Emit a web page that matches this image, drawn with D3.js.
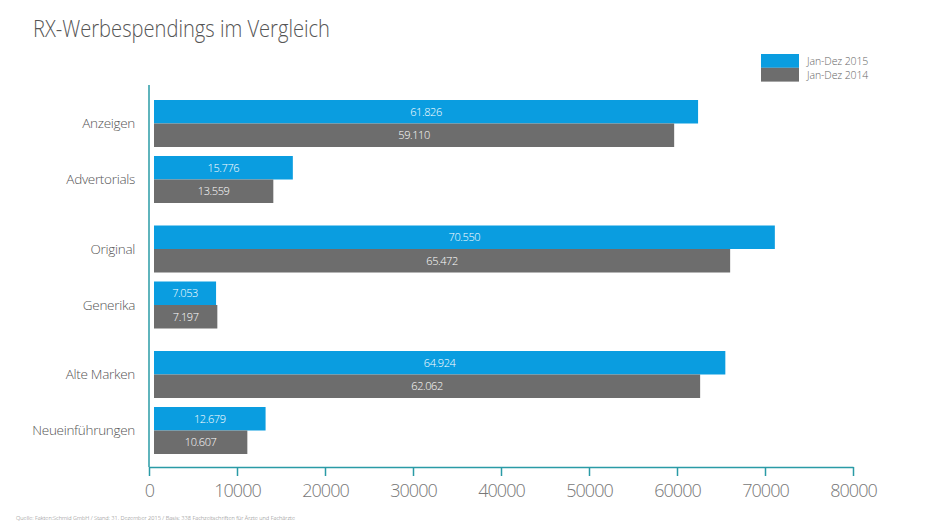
<!DOCTYPE html>
<html>
<head>
<meta charset="utf-8">
<script src="https://cdn.jsdelivr.net/npm/d3@7"></script>
<style>
  html, body { margin: 0; padding: 0; background: #fff; }
  svg { display: block; font-family: "Open Sans", sans-serif; }
</style>
</head>
<body>
<svg id="chart" width="933" height="527"></svg>
<script>
// ---- data ----
const title = "RX-Werbespendings im Vergleich";
const source = "Quelle: Fakten:Schmid GmbH / Stand: 31. Dezember 2015 / Basis: 338 Fachzeitschriften für Ärzte und Fachärzte";
const sections = [["Anzeigen", "Advertorials"], ["Original", "Generika"], ["Alte Marken", "Neueinführungen"]];
const categories = ["Anzeigen", "Advertorials", "Original", "Generika", "Alte Marken", "Neueinführungen"];
const seriesNames = ["Jan-Dez 2015", "Jan-Dez 2014"];
const values2015 = [61826, 15776, 70550, 7053, 64924, 12679];
const values2014 = [59110, 13559, 65472, 7197, 62062, 10607];
const xTicks = [0, 10000, 20000, 30000, 40000, 50000, 60000, 70000, 80000];
const colors = ["#0a9de0", "#6d6d6d"];

const svg = d3.select("#chart");
const axisColor = "#2a9ba6";
const fmt = v => d3.format(",")(v).replace(/,/g, ".");

const x = d3.scaleLinear().domain([0, 80000]).range([149, 853]);
const ySection = d3.scalePoint().domain(d3.range(sections.length)).range([100, 351]);
const yInner = d3.scalePoint().domain([0, 1]).range([0, 56]);
const ySeries = d3.scaleBand().domain(seriesNames).range([0, 47]);
const barOffset = 5;

function groupTop(cat) {
  for (let s = 0; s < sections.length; s++) {
    const i = sections[s].indexOf(cat);
    if (i >= 0) return ySection(s) + yInner(i);
  }
  return 0;
}

// title
svg.append("text")
  .attr("x", 33).attr("y", 37)
  .attr("font-size", 24).attr("font-weight", 300)
  .attr("fill", "#555")
  .attr("textLength", 297).attr("lengthAdjust", "spacingAndGlyphs")
  .text(title);

// legend
const legend = svg.append("g");
seriesNames.forEach((n, i) => {
  legend.append("rect")
    .attr("x", 761).attr("y", 54 + i * 13.8)
    .attr("width", 38).attr("height", 13.8)
    .attr("fill", colors[i]);
  legend.append("text")
    .attr("x", 807).attr("y", 64.5 + i * 14.5)
    .attr("font-size", 10.5).attr("font-weight", 300)
    .attr("fill", "#666")
    .attr("letter-spacing", -0.1)
    .text(n);
});

// bars
const data = categories.map((c, i) => ({ cat: c, vals: [values2015[i], values2014[i]] }));
const groups = svg.append("g").selectAll("g").data(data).join("g")
  .attr("transform", d => `translate(0,${groupTop(d.cat)})`);

groups.selectAll("rect").data(d => d.vals.map((v, j) => ({ v, s: seriesNames[j], j })))
  .join("rect")
  .attr("x", x(0) + barOffset)
  .attr("y", d => ySeries(d.s))
  .attr("width", d => x(d.v) - x(0))
  .attr("height", ySeries.bandwidth())
  .attr("fill", d => colors[d.j]);

groups.selectAll("text.val").data(d => d.vals.map((v, j) => ({ v, s: seriesNames[j], j })))
  .join("text").attr("class", "val")
  .attr("x", d => x(0) + barOffset + (x(d.v) - x(0)) / 2)
  .attr("y", d => ySeries(d.s) + ySeries.bandwidth() / 2)
  .attr("dy", "0.35em")
  .attr("text-anchor", "middle")
  .attr("font-size", 11).attr("font-weight", 300)
  .attr("letter-spacing", -0.4)
  .attr("fill", "#fff")
  .text(d => fmt(d.v));

// category labels
groups.append("text")
  .attr("x", 135)
  .attr("y", 47 / 2)
  .attr("dy", "0.35em")
  .attr("text-anchor", "end")
  .attr("font-size", 13.5).attr("font-weight", 300)
  .attr("fill", "#555")
  .attr("letter-spacing", -0.3)
  .text(d => d.cat);

// y axis line
svg.append("line")
  .attr("x1", x(0)).attr("x2", x(0))
  .attr("y1", 85).attr("y2", 467)
  .attr("stroke", axisColor).attr("stroke-width", 1.5);

// x axis
const xAxis = svg.append("g")
  .attr("transform", "translate(0,467)")
  .call(d3.axisBottom(x).tickValues(xTicks).tickSize(9).tickSizeOuter(0).tickPadding(8).tickFormat(d3.format("d")));
xAxis.select(".domain").attr("stroke", axisColor).attr("stroke-width", 1.5);
xAxis.selectAll(".tick line").attr("stroke", axisColor).attr("stroke-width", 1.5);
xAxis.selectAll(".tick text")
  .attr("font-family", "'Open Sans', sans-serif")
  .attr("font-size", 18).attr("font-weight", 300)
  .attr("letter-spacing", -1)
  .attr("fill", "#777");

// source
svg.append("text")
  .attr("x", 16).attr("y", 520)
  .attr("font-size", 5.5).attr("font-weight", 300)
  .attr("fill", "#777")
  .attr("textLength", 279).attr("lengthAdjust", "spacingAndGlyphs")
  .text(source);
</script>
</body>
</html>
